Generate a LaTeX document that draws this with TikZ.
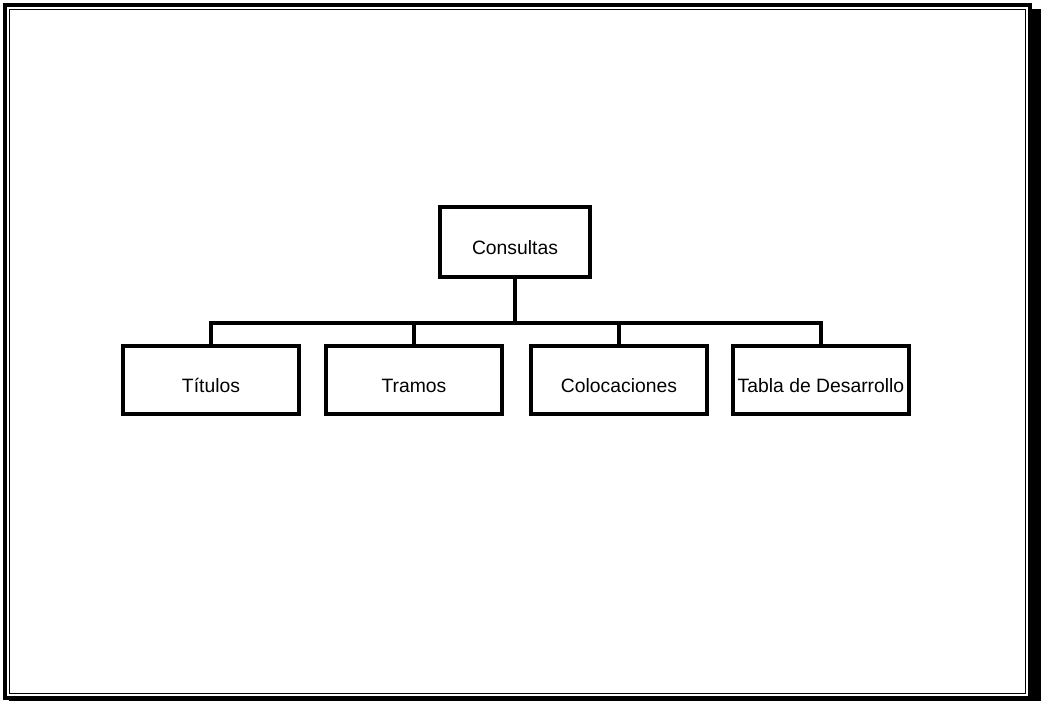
\documentclass[tikz,border=0pt]{standalone}
\usepackage{fontspec}
\setmainfont{Liberation Sans}
\tikzset{
  caja/.style={draw,line width=2.5pt,minimum width=132pt,minimum height=51pt,inner sep=0pt,
    text height=20pt,text depth=2pt,font=\fontsize{14.5}{17}\selectfont},
  linea/.style={line width=2.5pt}
}
\begin{document}
\begin{tikzpicture}[x=0.75pt,y=-0.75pt]
  \useasboundingbox (0,0) rectangle (1041,701);
  % marco
  \draw[line width=3pt] (5,5) rectangle (1030,698);
  \fill (1029,9) rectangle (1041,701);
  \fill (9,696) rectangle (1041,701);
  \draw[line width=0.7pt] (9.5,9.5) rectangle (1025.5,693.5);
  % cajas
  \node[caja,minimum width=112.5pt,minimum height=52.5pt] (cons) at (515,242) {Consultas};
  \node[caja] (tit) at (211,380) {Títulos};
  \node[caja] (tram) at (414,380) {Tramos};
  \node[caja] (col) at (619,380) {Colocaciones};
  \node[caja] (tabla) at (821,380) {Tabla de Desarrollo};
  \coordinate (bus) at (0,323);
  % lineas
  \draw[linea] (cons.south) -- (cons.south |- bus);
  \draw[linea] (tit.north) -- (tit.north |- bus) -- (tabla.north |- bus) -- (tabla.north);
  \draw[linea] (tram.north) -- (tram.north |- bus);
  \draw[linea] (col.north) -- (col.north |- bus);
\end{tikzpicture}
\end{document}
